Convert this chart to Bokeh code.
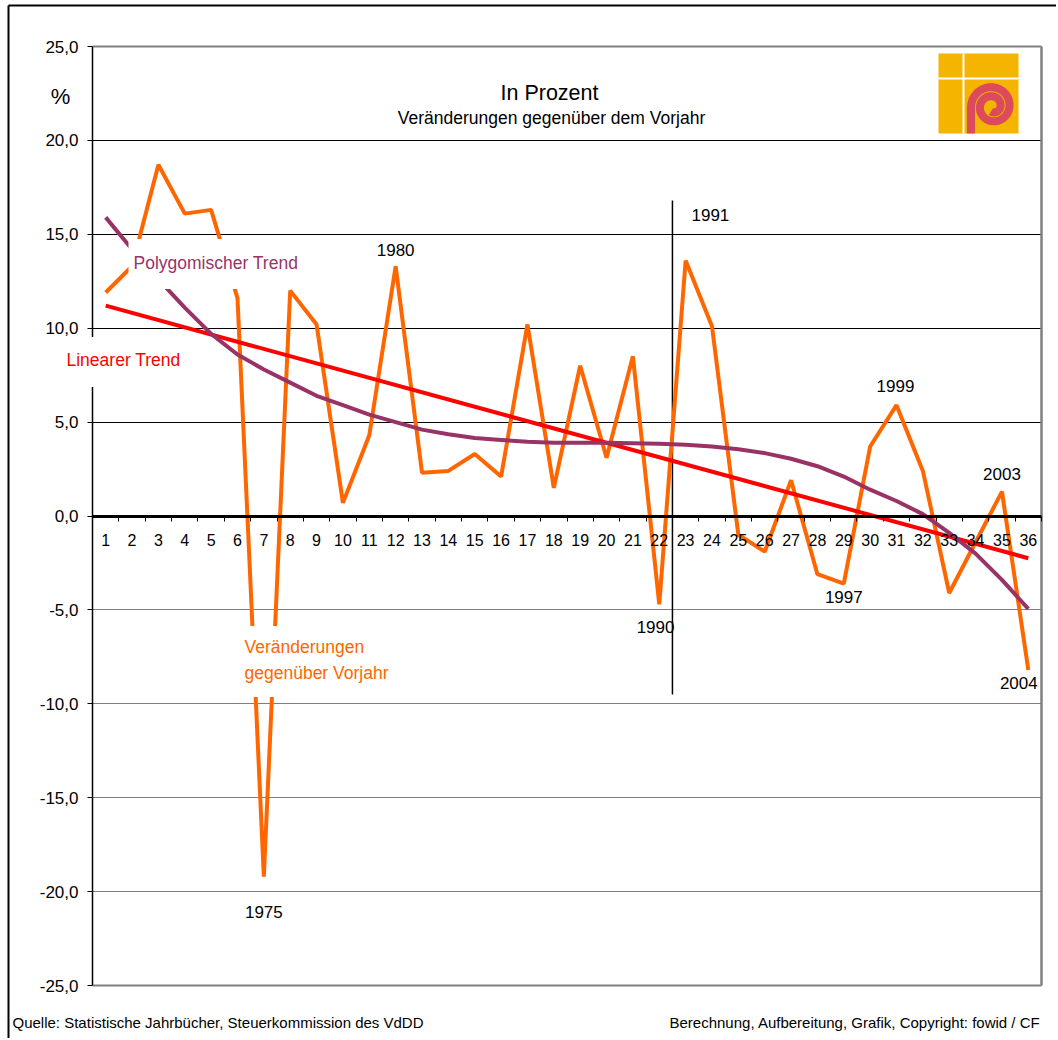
import numpy as np
from bokeh.plotting import figure
from bokeh.models import (FixedTicker, Label, Range1d, Grid, ColumnDataSource,
                          CustomJSTickFormatter)
from bokeh.core.properties import value
from bokeh.embed import file_html
from bokeh.resources import INLINE

# ---------------- data ----------------
periods = list(range(1, 37))                 # 1 = 1969 ... 36 = 2004
change = [11.9, 13.3, 18.7, 16.1, 16.3, 11.6, -19.2, 12.0, 10.2, 0.7,
          4.3, 13.3, 2.3, 2.4, 3.3, 2.1, 10.2, 1.5, 8.0, 3.1,
          8.5, -4.7, 13.6, 10.1, -1.0, -1.9, 1.9, -3.1, -3.6, 3.7,
          5.9, 2.4, -4.1, -1.4, 1.3, -8.2]
poly_trend = [15.9, 14.2, 12.6, 11.1, 9.7, 8.6, 7.8, 7.1, 6.4, 5.9,
              5.4, 5.0, 4.6, 4.35, 4.15, 4.05, 3.95, 3.9, 3.9, 3.9,
              3.88, 3.85, 3.8, 3.7, 3.55, 3.35, 3.05, 2.65, 2.1, 1.4,
              0.8, 0.1, -0.9, -2.0, -3.4, -4.95]
linear_trend_x = [1, 36]
linear_trend_y = [11.2, -2.25]
y_ticks = [-25, -20, -15, -10, -5, 0, 5, 10, 15, 20, 25]
minor_x_ticks = [i + 0.5 for i in range(0, 37)]
marker_x = [22.5]
marker_y_top = [16.8]
marker_y_bottom = [-9.5]
year_labels = ["1975", "1980", "1990", "1991", "1997", "1999", "2003", "2004"]
year_label_x = [7.0, 12.0, 21.86, 23.94, 29.0, 30.96, 35.0, 35.64]
year_label_y = [-21.07, 14.16, -5.89, 16.03, -4.33, 6.92, 2.24, -8.87]

ORANGE = "#FF6600"
RED = "#FF0000"
PURPLE = "#993366"
FONT = "Liberation Sans"

# ---------------- layout ----------------
W, H = 1056, 1038
XMIN, XMAX = 0.5, 36.5
YMIN, YMAX = -25, 25
PLOT_L, PLOT_R, PLOT_T, PLOT_B = 92, 1041, 46, 985   # plot area in pixels
SX = (PLOT_R - PLOT_L) / (XMAX - XMIN)
SY = (PLOT_B - PLOT_T) / (YMAX - YMIN)


def px2x(px):
    return XMIN + (px - PLOT_L) / SX


def py2y(py):
    return YMAX - (py - PLOT_T) / SY


p = figure(width=W, height=H, title=None,
           x_range=Range1d(px2x(0), px2x(W)), y_range=Range1d(py2y(H), py2y(0)),
           output_backend="svg", toolbar_location=None,
           min_border=0, min_border_left=0, min_border_right=0,
           min_border_top=0, min_border_bottom=0)
p.background_fill_color = "white"
p.border_fill_color = "white"
p.outline_line_color = None

p.xgrid.visible = False
p.ygrid.visible = False
p.add_layout(Grid(dimension=1, ticker=FixedTicker(ticks=[5, 10, 15, 20]),
                  cross_bounds=(XMIN, XMAX),
                  grid_line_color="black", grid_line_width=1))
p.add_layout(Grid(dimension=1, ticker=FixedTicker(ticks=[-20, -15, -10, -5]),
                  cross_bounds=(XMIN, XMAX),
                  grid_line_color="#7f7f7f", grid_line_width=1))
# plot-area border (gray)
p.add_layout(Grid(dimension=1, ticker=FixedTicker(ticks=[YMIN, YMAX]),
                  cross_bounds=(XMIN, XMAX),
                  grid_line_color="#808080", grid_line_width=2))
p.add_layout(Grid(dimension=0, ticker=FixedTicker(ticks=[XMAX]),
                  cross_bounds=(YMIN, YMAX),
                  grid_line_color="#808080", grid_line_width=2.5))

# y axis
ya = p.yaxis[0]
ya.fixed_location = XMIN
ya.bounds = (YMIN, YMAX)
ya.ticker = FixedTicker(ticks=y_ticks)
ya.formatter = CustomJSTickFormatter(code="return tick.toFixed(1).replace('.', ',');")
ya.axis_line_color = "black"
ya.axis_line_width = 1.5
ya.major_tick_out = 5
ya.major_tick_in = 0
ya.major_tick_line_color = "black"
ya.minor_tick_line_color = None
ya.major_label_standoff = 9
ya.major_label_text_font = FONT
ya.major_label_text_font_size = "17px"
ya.major_label_text_color = "black"

# x axis at zero
xa = p.xaxis[0]
xa.fixed_location = 0
xa.bounds = (XMIN, XMAX)
xa.ticker = FixedTicker(ticks=periods, minor_ticks=minor_x_ticks)
xa.axis_line_color = "black"
xa.axis_line_width = 3
xa.major_tick_line_color = None
xa.major_tick_out = 0
xa.major_tick_in = 0
xa.minor_tick_line_color = "black"
xa.minor_tick_out = 5
xa.minor_tick_in = 0
xa.major_label_standoff = 13
xa.major_label_text_font = FONT
xa.major_label_text_font_size = "16px"
xa.major_label_text_color = "black"

# ---------------- series ----------------
p.segment(x0=marker_x, y0=marker_y_top, x1=marker_x, y1=marker_y_bottom,
          line_color="black", line_width=1.5)
p.line(periods, change, line_color=ORANGE, line_width=4)
p.line(linear_trend_x, linear_trend_y, line_color=RED, line_width=4)
p.line(periods, poly_trend, line_color=PURPLE, line_width=4)

src = ColumnDataSource(dict(x=year_label_x, y=year_label_y, t=year_labels))
p.text(x="x", y="y", text="t", source=src, text_align="center",
       text_baseline="middle", text_font=value(FONT), text_font_size="17px",
       text_color="black")

# series labels with white boxes (anchor = box edge, text starts after padding)
p.add_layout(Label(x=px2x(128), y=13.42, text="Polygomischer Trend", text_color=PURPLE,
                   text_font=FONT, text_font_size="17.5px", text_align="left",
                   text_baseline="middle", background_fill_color="white",
                   padding=dict(left=5, right=3, top=14, bottom=16)))
p.add_layout(Label(x=px2x(60), y=8.2, text="Linearer Trend", text_color=RED,
                   text_font=FONT, text_font_size="17.5px", text_align="left",
                   text_baseline="middle", background_fill_color="white",
                   padding=dict(left=6, right=4, top=13, bottom=17)))
p.add_layout(Label(x=px2x(236), y=-7.75, text="Veränderungen\ngegenüber Vorjahr",
                   text_color=ORANGE, text_font=FONT, text_font_size="17.5px",
                   text_line_height=1.3,
                   text_align="left", text_baseline="middle",
                   background_fill_color="white",
                   padding=dict(left=8, right=6, top=11, bottom=14)))

# titles
p.add_layout(Label(x=px2x(549), y=py2y(92), text="In Prozent", text_font=FONT,
                   text_font_size="21.5px", text_align="center",
                   text_baseline="middle", text_color="black"))
p.add_layout(Label(x=px2x(551), y=py2y(117),
                   text="Veränderungen gegenüber dem Vorjahr", text_font=FONT,
                   text_font_size="17.5px", text_align="center",
                   text_baseline="middle", text_color="black"))
p.add_layout(Label(x=px2x(60), y=py2y(96), text="%", text_font=FONT,
                   text_font_size="22px", text_align="center",
                   text_baseline="middle", text_color="black"))

# footer
p.add_layout(Label(x=px2x(12), y=py2y(1022),
                   text="Quelle: Statistische Jahrbücher, Steuerkommission des VdDD",
                   text_font=FONT, text_font_size="15px", text_align="left",
                   text_baseline="middle", text_color="black"))
p.add_layout(Label(x=px2x(1040), y=py2y(1022),
                   text="Berechnung, Aufbereitung, Grafik, Copyright: fowid / CF",
                   text_font=FONT, text_font_size="15px", text_align="right",
                   text_baseline="middle", text_color="black"))

# outer chart border (decoration)
p.segment(x0=[px2x(8), px2x(8)], y0=[py2y(5), py2y(5)],
          x1=[px2x(8), px2x(W)], y1=[py2y(H), py2y(5)],
          line_color="black", line_width=2)

# logo (decoration)
p.quad(left=[px2x(938)], right=[px2x(1018)], top=[py2y(53)], bottom=[py2y(133)],
       fill_color="#F5B400", line_color=None)
p.segment(x0=[px2x(963)], y0=[py2y(53)], x1=[px2x(963)], y1=[py2y(133)],
          line_color="white", line_width=2)
p.segment(x0=[px2x(938)], y0=[py2y(78)], x1=[px2x(1018)], y1=[py2y(78)],
          line_color="white", line_width=2)
cx, cy = 992.0, 106.0
t = np.linspace(0, 3.6 * np.pi, 240)
r = 21.5 - 9.0 * t / (2 * np.pi)
phi = np.pi - t
sx = np.concatenate([[cx - 21.5], cx + r * np.cos(phi)])
sy = np.concatenate([[133.0], cy - r * np.sin(phi)])
p.line([px2x(v) for v in sx], [py2y(v) for v in sy], line_color="#DB4B5B",
       line_width=8)

open("out.html", "w").write(file_html(p, INLINE))
